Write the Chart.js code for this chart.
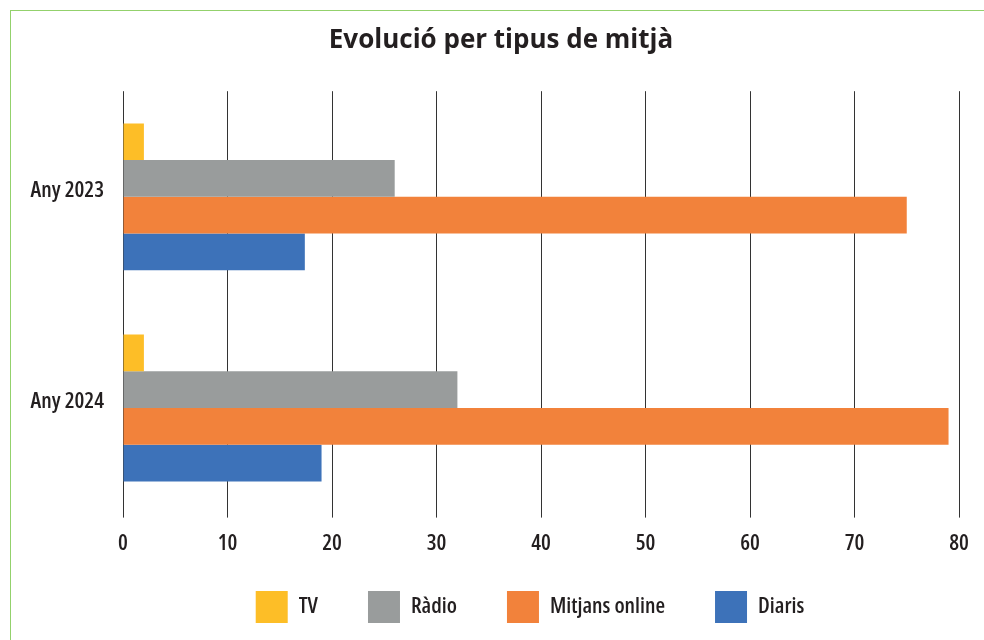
<!DOCTYPE html>
<html>
<head>
<meta charset="utf-8">
<script src="https://cdn.jsdelivr.net/npm/chart.js@4"></script>
<style>
  body { margin: 0; background: #fff; }
  #marc { position: absolute; left: 10px; top: 10px; width: 980px; height: 640px;
          border-top: 1.5px solid #93d16c; border-left: 1.5px solid #93d16c; }
  #zona { position: absolute; left: 0; top: 0; width: 984px; height: 640px; }
</style>
</head>
<body>
<div id="marc"></div>
<div id="zona"><canvas id="grafic"></canvas></div>
<script>
// Dades del gràfic
const anys = ['Any 2023', 'Any 2024'];
const tv = [2, 2];
const radio = [26, 32];
const mitjansOnline = [75, 79];
const diaris = [17.4, 19];

// lletra estreta (Open Sans variable, amplada condensada)
const lletra = { family: "'Open Sans', sans-serif", size: 22, weight: 'condensed 550' };
const colorText = '#231f20';

// petit ajust horitzontal del títol i la llegenda
const ajustBlocs = {
  id: 'ajustBlocs',
  afterLayout(chart) {
    chart.titleBlock.left += 13;
    chart.legend.left -= 11;
    chart.legend.right -= 11;
  }
};

const ctx = document.getElementById('grafic').getContext('2d');
new Chart(ctx, {
  type: 'bar',
  data: {
    labels: anys,
    datasets: [
      { label: 'TV', data: tv, backgroundColor: '#fdbe27' },
      { label: 'Ràdio', data: radio, backgroundColor: '#999c9c' },
      { label: 'Mitjans online', data: mitjansOnline, backgroundColor: '#f2823b' },
      { label: 'Diaris', data: diaris, backgroundColor: '#3d72b9' }
    ]
  },
  plugins: [ajustBlocs],
  options: {
    indexAxis: 'y',
    responsive: true,
    maintainAspectRatio: false,
    animation: false,
    categoryPercentage: 0.695,
    barPercentage: 1,
    layout: { padding: { top: 10, left: 30, right: 25, bottom: 7 } },
    scales: {
      x: {
        min: 0,
        max: 80,
        ticks: { stepSize: 10, color: colorText, padding: 13, font: lletra },
        grid: { color: '#333', lineWidth: 1, tickLength: 4 },
        border: { display: false }
      },
      y: {
        ticks: { color: colorText, padding: 19, labelOffset: -6, font: lletra },
        grid: { display: false, drawTicks: false },
        border: { display: false },
        afterFit: (scale) => { scale.width = 93; }
      }
    },
    plugins: {
      title: {
        display: true,
        text: 'Evolució per tipus de mitjà',
        color: colorText,
        font: { family: "'Open Sans', sans-serif", size: 26, weight: 'bold' },
        padding: { top: 15, bottom: 35 }
      },
      legend: {
        position: 'bottom',
        fullSize: false,
        // títol buit amb marge negatiu: separa més les caixes sense afegir alçada
        title: { display: true, text: '', font: { size: 10 }, padding: { top: -41, bottom: 0 } },
        labels: {
          boxWidth: 32,
          boxHeight: 32,
          padding: 50,
          color: colorText,
          font: lletra
        }
      },
      tooltip: { enabled: false }
    }
  }
});
</script>
</body>
</html>
